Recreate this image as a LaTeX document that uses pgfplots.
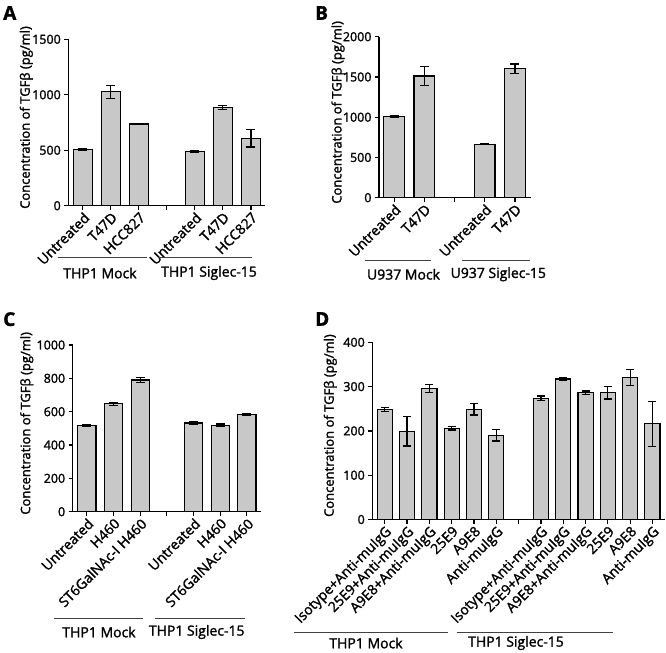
\documentclass[border=0pt]{standalone}
\usepackage{fontspec}
\setmainfont{Open Sans}[FakeBold=1.6]
\usepackage{pgfplots}
\pgfplotsset{compat=1.18}
\definecolor{barg}{RGB}{200,200,200}
\newcommand{\tf}{\fontsize{14bp}{16bp}\selectfont}
\newcommand{\yf}{\fontsize{12.5bp}{14bp}\selectfont}
\newcommand{\lf}{\fontsize{13bp}{15bp}\selectfont}

\pgfplotstableread{
x y e
0 507 6
1 1027 60
2 737 0
4 490 6
5 888 18
6 607 77
}\dataA
\pgfplotstableread{
x y e
0 1006 10
1 1511 115
3 662 4
4 1601 60
}\dataB
\pgfplotstableread{
x y e
0 519 5
1 648 9
2 790 16
4 532 6
5 518 8
6 584 5
}\dataC
\pgfplotstableread{
x y e
0 248 4
1 199 33
2 295 9
3 206 4
4 249 13
5 190 13
7 274 5
8 317 4
9 286 4
10 286 14
11 320 18
12 216 51
}\dataD

\pgfplotsset{
 panel/.style={
  scale only axis, anchor=south west,
  axis x line=bottom, axis y line=left,
  axis line style={-, line width=1.2bp},
  every tick/.style={black, line width=1.2bp},
  major tick length=4bp,
  tick align=outside,
  ybar, bar width=0.68,
  ymin=0, enlargelimits=false,
  /pgf/number format/assume math mode=true,
  /pgf/number format/1000 sep={},
  yticklabel style={font=\yf},
  xticklabel style={font=\tf, rotate=45, anchor=north east, inner sep=1bp},
  ylabel={Concentration of TGFβ (pg/ml)},
  ylabel style={font=\lf, anchor=center, at={(axis description cs:#1,0.53)}},
  clip=false,
 },
 bars/.style={fill=barg, draw=black, line width=1.2bp,
  error bars/.cd, y dir=both, y explicit,
  error bar style={line width=1.2bp, black},
  error mark options={rotate=90, mark size=#1, line width=1.2bp, black}},
 bars/.default=4.5bp,
}

\begin{document}
\begin{tikzpicture}
\path[use as bounding box] (0,0) rectangle (666bp,-653bp);

% Panel A
\begin{axis}[panel=-0.2136, at={(68.3bp,-205.7bp)}, width=196.6bp, height=166.4bp,
  xmin=-0.52, xmax=6.5, ymax=1500, ytick={0,500,1000,1500},
  xtick={0,1,2,3,4,5,6},
  xticklabels={Untreated,T47D,HCC827,{},Untreated,T47D,HCC827}]
\addplot[bars] table[x=x, y=y, y error=e] {\dataA};
\end{axis}

% Panel B
\begin{axis}[panel=-0.27, at={(379bp,-197.7bp)}, width=151.7bp, height=161bp,
  xmin=-0.5, xmax=4.52, ymax=2000, ytick={0,500,1000,1500,2000},
  xtick={0,1,2,3,4},
  xticklabels={Untreated,T47D,{},Untreated,T47D}]
\addplot[bars] table[x=x, y=y, y error=e] {\dataB};
\end{axis}

% Panel C
\begin{axis}[panel=-0.244, at={(72.7bp,-511.7bp)}, width=188.3bp, height=166.7bp,
  xmin=-0.53, xmax=6.53, ymax=1000, ytick={0,200,400,600,800,1000},
  xtick={0,1,2,3,4,5,6},
  xticklabels={Untreated,H460,ST6GalNAc-I H460,{},Untreated,H460,ST6GalNAc-I H460}]
\addplot[bars] table[x=x, y=y, y error=e] {\dataC};
\end{axis}

% Panel D
\begin{axis}[panel=-0.1436, at={(372.3bp,-519.5bp)}, width=292.4bp, height=177.2bp,
  xmin=-0.56, xmax=12.55, ymax=400, ytick={0,100,200,300,400},
  xtick={0,...,12},
  xticklabels={Isotype+Anti-muIgG,25E9+Anti-muIgG,A9E8+Anti-muIgG,25E9,A9E8,Anti-muIgG,{},Isotype+Anti-muIgG,25E9+Anti-muIgG,A9E8+Anti-muIgG,25E9,A9E8,Anti-muIgG}]
\addplot[bars=4bp] table[x=x, y=y, y error=e] {\dataD};
\end{axis}

% panel letters
\node[font=\fontsize{19bp}{21bp}\selectfont\bfseries, anchor=north west, inner sep=0pt] at (3bp,-6bp) {A};
\node[font=\fontsize{19bp}{21bp}\selectfont\bfseries, anchor=north west, inner sep=0pt] at (315bp,-6bp) {B};
\node[font=\fontsize{19bp}{21bp}\selectfont\bfseries, anchor=north west, inner sep=0pt] at (3bp,-312bp) {C};
\node[font=\fontsize{19bp}{21bp}\selectfont\bfseries, anchor=north west, inner sep=0pt] at (315bp,-312bp) {D};

% group annotations
\begin{scope}[line width=0.8bp, black!75]
\draw (58bp,-257bp) -- (147bp,-257bp);
\draw (158bp,-257bp) -- (252bp,-257bp);
\draw (364.7bp,-260bp) -- (431.3bp,-260bp);
\draw (462.3bp,-260bp) -- (529.7bp,-260bp);
\draw (54bp,-618bp) -- (143.3bp,-618bp);
\draw (155bp,-618bp) -- (245bp,-618bp);
\draw (294bp,-632bp) -- (448bp,-632bp);
\draw (456.7bp,-632bp) -- (613bp,-632bp);
\end{scope}
\node[font=\tf] at (100bp,-273bp) {THP1 Mock};
\node[font=\tf] at (209bp,-273bp) {THP1 Siglec-15};
\node[font=\tf] at (403.5bp,-274.3bp) {U937 Mock};
\node[font=\tf] at (498.3bp,-274.3bp) {U937 Siglec-15};
\node[font=\tf] at (99bp,-632bp) {THP1 Mock};
\node[font=\tf] at (196.7bp,-632bp) {THP1 Siglec-15};
\node[font=\tf] at (366bp,-643bp) {THP1 Mock};
\node[font=\tf] at (516bp,-643bp) {THP1 Siglec-15};
\end{tikzpicture}
\end{document}
